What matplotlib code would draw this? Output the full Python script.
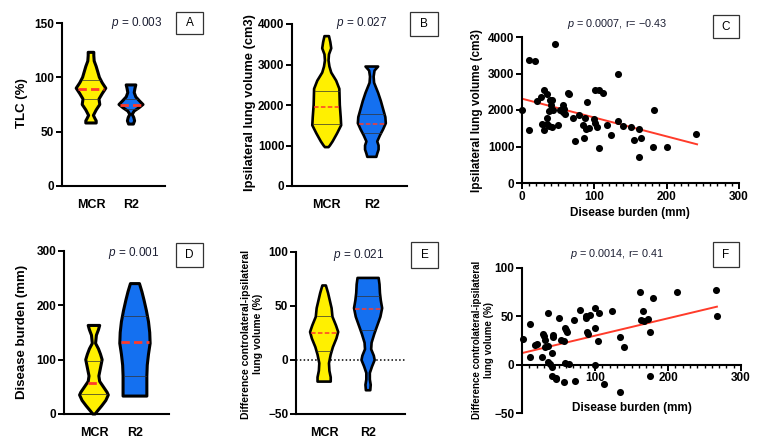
import numpy as np
import matplotlib
matplotlib.use('Agg')
import matplotlib.pyplot as plt
from matplotlib.patches import Rectangle

plt.rcParams['font.family'] = ['Liberation Sans', 'DejaVu Sans']
plt.rcParams['mathtext.fontset'] = 'custom'
plt.rcParams['mathtext.it'] = 'Liberation Sans:italic'
plt.rcParams['mathtext.rm'] = 'Liberation Sans'

W, H = 760, 445
groups = ['MCR', 'R2']
yellow = '#FFF000'
blue = '#1470F0'
red = '#FF3B2A'
ptext = '#1c1f33'

# violin outlines: y levels and half widths (category units)
a_mcr_y = [123, 120, 115, 110, 105, 100, 95, 90, 85, 80, 75, 70, 65, 62, 60, 58]
a_mcr_w = [0.07, 0.07, 0.08, 0.13, 0.17, 0.21, 0.28, 0.37, 0.28, 0.20, 0.22, 0.13, 0.06, 0.10, 0.13, 0.13]
a_r2_y = [93, 90, 86, 82, 78, 75, 72, 69, 66, 63, 60, 57]
a_r2_w = [0.12, 0.10, 0.08, 0.12, 0.22, 0.30, 0.20, 0.08, 0.03, 0.07, 0.09, 0.06]
a_quart = [(80, 89, 98), (71, 75, 80)]

b_mcr_y = [3700, 3550, 3400, 3250, 3100, 2950, 2800, 2600, 2400, 2000, 1700, 1500, 1300, 1100, 1000, 960]
b_mcr_w = [0.05, 0.08, 0.10, 0.05, 0.04, 0.06, 0.10, 0.21, 0.28, 0.29, 0.31, 0.32, 0.23, 0.13, 0.07, 0.04]
b_r2_y = [2950, 2850, 2700, 2550, 2300, 2100, 1900, 1700, 1550, 1400, 1250, 1100, 1000, 900, 800, 720]
b_r2_w = [0.14, 0.06, 0.04, 0.05, 0.14, 0.20, 0.25, 0.30, 0.31, 0.25, 0.18, 0.12, 0.15, 0.15, 0.12, 0.10]
b_quart = [(1530, 1950, 2350), (1320, 1540, 1780)]

d_mcr_y = [163, 155, 145, 130, 120, 110, 100, 85, 70, 60, 50, 40, 35, 25, 15, 5, 0]
d_mcr_w = [0.14, 0.11, 0.06, 0.04, 0.11, 0.16, 0.20, 0.16, 0.12, 0.14, 0.23, 0.32, 0.35, 0.29, 0.19, 0.08, 0.03]
d_r2_y = [240, 225, 210, 190, 170, 150, 130, 110, 90, 70, 50, 33]
d_r2_w = [0.11, 0.17, 0.22, 0.28, 0.33, 0.36, 0.37, 0.33, 0.30, 0.29, 0.29, 0.29]
d_quart = [(36, 57, 98), (70, 133, 180)]

e_mcr_y = [69, 62, 55, 48, 40, 32, 26, 20, 12, 5, -3, -10, -16, -20]
e_mcr_w = [0.04, 0.09, 0.13, 0.17, 0.19, 0.27, 0.32, 0.28, 0.20, 0.15, 0.11, 0.12, 0.15, 0.15]
e_r2_y = [76, 70, 62, 55, 48, 40, 32, 24, 16, 10, 4, 0, -6, -12, -18, -23, -28]
e_r2_w = [0.24, 0.26, 0.27, 0.29, 0.32, 0.28, 0.21, 0.14, 0.08, 0.07, 0.13, 0.15, 0.09, 0.04, 0.04, 0.06, 0.05]
e_quart = [(8, 25, 41), (28, 47, 59)]

# scatter C: disease burden vs ipsilateral lung volume
c_x = [0, 10, 18, 10, 46, 21, 26, 30, 35, 39, 28, 30, 34, 34, 37, 40, 42, 41, 38, 43,
       50, 53, 56, 57, 58, 59, 63, 65, 70, 73, 79, 84, 87, 86, 90, 89, 93, 99, 101, 103,
       101, 107, 112, 107, 118, 123, 133, 133, 140, 151, 155, 162, 165, 162, 182, 181, 201, 241]
c_y = [1990, 3380, 3340, 1460, 3820, 2240, 2360, 2540, 2430, 2270, 1610, 1440, 1790, 1610, 1970, 2140, 2280, 1530, 1570, 1990,
       1580, 2010, 1950, 2130, 2040, 1900, 2470, 2450, 1790, 1150, 1870, 1580, 1790, 1240, 2220, 1490, 1500, 1760, 1640, 1530,
       2540, 2560, 2470, 970, 1580, 1320, 2980, 1690, 1550, 1530, 1180, 1470, 1230, 710, 2010, 990, 990, 1330]
c_fit_x = [0, 242]
c_fit_y = [2310, 1060]

# scatter F: disease burden vs contralateral-ipsilateral difference
f_x = [1, 11, 11, 18, 21, 27, 29, 30, 31, 32, 36, 36, 35, 38, 41, 42, 43, 41, 41, 46,
       47, 51, 53, 57, 59, 60, 62, 59, 64, 58, 71, 73, 80, 87, 88, 93, 89, 91, 100, 100,
       100, 106, 104, 113, 123, 134, 134, 140, 162, 163, 166, 167, 172, 176, 176, 179, 212, 266, 267]
f_y = [27, 42, 8, 20, 21, 8, 32, 30, 25, 18, 53, 19, 3, 1, 12, 31, 29, -2, -12, -14,
       -15, 48, 26, 24, 38, 36, 34, 2, 1, -18, 46, -17, 57, 50, 48, 51, 34, 32, 59, 38,
       0, 53, 24, -20, 56, 29, -28, 18, 75, 46, 55, 45, 47, 34, -12, 69, 75, 77, 50]
f_fit_x = [0, 267]
f_fit_y = [12, 60]

fig = plt.figure(figsize=(W / 100, H / 100), dpi=100)


def box(l, t, r, b):
    return [l / W, 1 - b / H, (r - l) / W, (b - t) / H]


def ftext(x, y, s, **kw):
    fig.text(x / W, 1 - y / H, s, ha='center', va='center', **kw)


def letter(l, t, r, b, s):
    fig.patches.append(Rectangle((l / W, 1 - b / H), (r - l) / W, (b - t) / H,
                                 transform=fig.transFigure, fill=False, lw=0.9, ec='#333333'))
    ftext((l + r) / 2, (t + b) / 2, s, fontsize=8.5)


def style(ax):
    for s in ['top', 'right']:
        ax.spines[s].set_visible(False)
    for s in ['left', 'bottom']:
        ax.spines[s].set_linewidth(1.5)
    ax.tick_params(width=1.4, length=4, labelsize=8.5, pad=1.5)
    for lab in ax.get_xticklabels() + ax.get_yticklabels():
        lab.set_fontweight('bold')


def violin(ax, pos, vy, vw, color, quart, lw, mlw):
    vy = np.array(vy, float)
    vw = np.array(vw, float)
    xs = np.concatenate([pos + vw, (pos - vw)[::-1]])
    ys = np.concatenate([vy, vy[::-1]])
    ax.fill(xs, ys, facecolor=color, edgecolor='black', lw=lw, joinstyle='round', zorder=2, clip_on=False)
    order = np.argsort(vy)
    for i, q in enumerate(quart):
        hw = np.interp(q, vy[order], vw[order]) - 0.02
        if i == 1:
            ax.plot([pos - hw, pos + hw], [q, q], color=red, lw=mlw, ls=(0, (3, 1.5)), zorder=3)
        else:
            ax.plot([pos - hw, pos + hw], [q, q], color='#333333', lw=0.5, zorder=3)


def violin_panel(rect, xlim, ylim, yticks, data, quart, lw, mlw):
    ax = fig.add_axes(box(*rect))
    for i, (vy, vw) in enumerate(data):
        violin(ax, i, vy, vw, [yellow, blue][i], quart[i], lw, mlw)
    ax.set_xlim(*xlim)
    ax.set_ylim(*ylim)
    ax.set_yticks(yticks)
    ax.set_xticks([0, 1])
    ax.set_xticklabels(groups)
    style(ax)
    ax.tick_params(axis='x', length=0, pad=9)
    for lab in ax.get_xticklabels():
        lab.set_fontsize(9)
    return ax


# A
violin_panel((62, 23, 165, 186), (-0.725, 1.85), (0, 150), [0, 50, 100, 150],
             [(a_mcr_y, a_mcr_w), (a_r2_y, a_r2_w)], a_quart, 2.2, 2.0)
ftext(21.7, 103, 'TLC (%)', rotation=90, fontsize=9.5, fontweight='bold')
ftext(137, 23, r'$p$ = 0.003', fontsize=8.5, color=ptext)
letter(176, 12, 203, 34, 'A')

# B
violin_panel((292, 24, 407, 186), (-0.77, 1.78), (0, 4000), [0, 1000, 2000, 3000, 4000],
             [(b_mcr_y, b_mcr_w), (b_r2_y, b_r2_w)], b_quart, 1.9, 1.1)
ftext(250, 103, 'Ipsilateral lung volume (cm3)', rotation=90, fontsize=9.3, fontweight='bold')
ftext(362, 23, r'$p$ = 0.027', fontsize=8.5, color=ptext)
letter(410, 12, 438, 36, 'B')

# C
ax = fig.add_axes(box(522, 37, 739, 183))
ax.scatter(c_x, c_y, s=26, color='black', zorder=3, clip_on=False, linewidths=0)
ax.plot(c_fit_x, c_fit_y, color=red, lw=1.4, zorder=2)
ax.set_xlim(0, 300)
ax.set_ylim(0, 4000)
ax.set_xticks([0, 100, 200, 300])
ax.set_xticks(np.arange(0, 301, 10), minor=True)
ax.set_yticks([0, 1000, 2000, 3000, 4000])
style(ax)
ax.tick_params(axis='x', which='minor', length=2.5, width=1.0)
ftext(477, 110, 'Ipsilateral lung volume (cm3)', rotation=90, fontsize=8.5, fontweight='bold')
ftext(630, 213, 'Disease burden (mm)', fontsize=8.5, fontweight='bold')
ftext(617, 24, r'$p$ = 0.0007, r= −0.43', fontsize=7.8, color=ptext)
letter(713, 15, 739, 38, 'C')

# D
violin_panel((64, 251, 169, 414), (-0.73, 1.83), (0, 300), [0, 100, 200, 300],
             [(d_mcr_y, d_mcr_w), (d_r2_y, d_r2_w)], d_quart, 2.2, 2.0)
ftext(22, 332, 'Disease burden (mm)', rotation=90, fontsize=9.5, fontweight='bold')
ftext(134, 253, r'$p$ = 0.001', fontsize=8.5, color=ptext)
letter(176, 243, 203, 267, 'D')

# E
ax = violin_panel((296, 252, 405, 414), (-0.64, 1.84), (-50, 100), [-50, 0, 50, 100],
                  [(e_mcr_y, e_mcr_w), (e_r2_y, e_r2_w)], e_quart, 1.9, 1.1)
ax.axhline(0, color='black', lw=1.1, ls=(0, (1, 1.5)), zorder=1)
ftext(252, 334, 'Difference controlateral-ipsilateral\nlung volume (%)', rotation=90,
      fontsize=7.5, fontweight='bold', linespacing=1.2)
ftext(359, 255, r'$p$ = 0.021', fontsize=8.5, color=ptext)
letter(411, 242, 438, 268, 'E')

# F
ax = fig.add_axes(box(522, 268, 741, 413))
ax.scatter(f_x, f_y, s=26, color='black', zorder=3, clip_on=False, linewidths=0)
ax.plot(f_fit_x, f_fit_y, color=red, lw=1.4, zorder=2)
ax.set_xlim(0, 300)
ax.set_ylim(-50, 100)
ax.spines['bottom'].set_position(('data', 0))
ax.set_xticks([100, 200, 300])
ax.set_xticks(np.arange(10, 301, 10), minor=True)
ax.set_yticks([-50, 0, 50, 100])
style(ax)
ax.tick_params(axis='x', which='minor', length=2.5, width=1.0)
ftext(483, 340, 'Difference controlateral-ipsilateral\nlung volume (%)', rotation=90,
      fontsize=7, fontweight='bold', linespacing=1.2)
ftext(632, 408, 'Disease burden (mm)', fontsize=8.5, fontweight='bold')
ftext(617, 254, r'$p$ = 0.0014, r= 0.41', fontsize=7.8, color=ptext)
letter(713, 242, 739, 267, 'F')

fig.savefig('out.png', dpi=100)
